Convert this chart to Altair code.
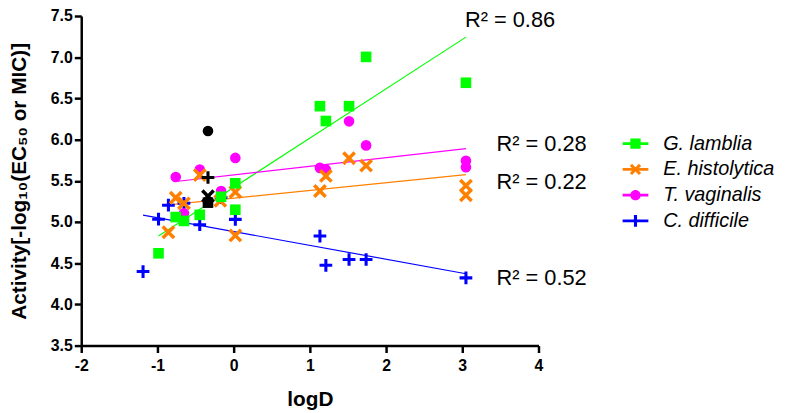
import math
import altair as alt
import pandas as pd

# ---------------- data ----------------
species = ["G. lamblia", "E. histolytica", "T. vaginalis", "C. difficile"]
colors = ["#00FF00", "#FF8000", "#FF00FF", "#0000FF"]

g_x = [-0.986, -0.76, -0.652, -0.445, -0.165, 0.022, 0.022, 1.132, 1.21, 1.514, 1.738, 3.048]
g_y = [4.62, 5.06, 5.013, 5.087, 5.306, 5.47, 5.149, 6.406, 6.226, 6.406, 7.004, 6.69]

e_x = [-0.856, -0.76, -0.652, -0.445, -0.175, 0.022, 0.022, 1.132, 1.21, 1.514, 1.738, 3.048, 3.048]
e_y = [4.876, 5.294, 5.227, 5.570, 5.256, 5.364, 4.837, 5.376, 5.559, 5.774, 5.684, 5.441, 5.324]

t_x = [-0.76, -0.445, 0.022, -0.165, -0.652, 1.132, 1.21, 1.514, 1.738, 3.048, 3.048]
t_y = [5.547, 5.637, 5.778, 5.376, 5.107, 5.657, 5.637, 6.222, 5.930, 5.742, 5.664]

c_x = [-1.189, -0.986, -0.856, -0.652, -0.445, 0.022, -0.165, 1.132, 1.21, 1.514, 1.738, 3.048]
c_y = [4.399, 5.034, 5.204, 5.227, 4.967, 5.032, 5.297, 4.829, 4.474, 4.545, 4.545, 4.322]

# reference compound (black markers), one per organism in species order
ref_x = [-0.337, -0.337, -0.337, -0.337]
ref_y = [5.235, 5.313, 6.105, 5.540]

r2_labels = ["R\u00b2 = 0.86", "R\u00b2 = 0.28", "R\u00b2 = 0.22", "R\u00b2 = 0.52"]
r2_x = [3.035, 3.45, 3.45, 3.45]
r2_y = [7.45, 5.95, 5.49, 4.32]

x_ticks = [-2, -1, 0, 1, 2, 3, 4]
y_ticks = [3.5, 4.0, 4.5, 5.0, 5.5, 6.0, 6.5, 7.0, 7.5]

# ---------------- shapes ----------------
S2 = math.sqrt(2)


def plus_pts(L, a):
    return [(-a, -L), (a, -L), (a, -a), (L, -a), (L, a), (a, a), (a, L), (-a, L),
            (-a, a), (-L, a), (-L, -a), (-a, -a)]


def rot45(pts):
    return [((x - y) / S2, (x + y) / S2) for x, y in pts]


def to_path(pts):
    return "M" + "L".join(f"{x:.3f},{y:.3f}" for x, y in pts) + "Z"


PLUS = to_path(plus_pts(1.0, 0.24))
XSHAPE = to_path(rot45(plus_pts(1.16, 0.25)))
marker_shapes = ["square", XSHAPE, "circle", PLUS]
marker_sizes = [115, 196, 115, 165]

LINE = "M-1,-0.11H1V0.11H-1Z"
legend_shapes = [
    LINE + " M-0.4,-0.4H0.4V0.4H-0.4Z",
    LINE + " " + to_path(rot45(plus_pts(0.5, 0.12))),
    LINE + " M0.4,0A0.4,0.4 0 1,1 -0.4,0A0.4,0.4 0 1,1 0.4,0Z",
    LINE + " M-0.12,-0.46H0.12V0.46H-0.12Z",
]

rows = []
for sp, xs, ys in zip(species, [g_x, e_x, t_x, c_x], [g_y, e_y, t_y, c_y]):
    for xv, yv in zip(xs, ys):
        rows.append({"x": xv, "y": yv, "species": sp})
df = pd.DataFrame(rows)
ref_df = pd.DataFrame({"x": ref_x, "y": ref_y, "species": species})
lab_df = pd.DataFrame({"x": r2_x, "y": r2_y, "label": r2_labels})

FONT = "Liberation Sans"
H = 333

X = alt.X("x:Q", scale=alt.Scale(domain=[-2, 4], nice=False, zero=False),
          axis=alt.Axis(values=x_ticks, title="logD", labelPadding=5, labelFlush=False,
                        labelExpr="datum.value + ''",
                        titleY=55, titleBaseline="middle"))
Y = alt.Y("y:Q", scale=alt.Scale(domain=[3.5, 7.5], nice=False, zero=False),
          axis=alt.Axis(values=y_ticks, format=".1f", labelFlush=False,
                        title="Activity[-log\u2081\u2080(EC\u2085\u2080 or MIC)]",
                        labelPadding=2, titleX=-62, titleY=H / 2, titleAngle=270,
                        titleBaseline="middle", titleAlign="center"))

layers = []
# regression lines
for sp, col in zip(species, colors):
    layers.append(
        alt.Chart(df).transform_filter(alt.datum.species == sp)
        .transform_regression("x", "y")
        .mark_line(color=col, strokeWidth=1.2)
        .encode(x=X, y=Y)
    )
# points, drawn in order blue, magenta, orange, green
for i in [3, 2, 1, 0]:
    layers.append(
        alt.Chart(df).transform_filter(alt.datum.species == species[i])
        .mark_point(shape=marker_shapes[i], size=marker_sizes[i], filled=True,
                    fill=colors[i], strokeWidth=0, opacity=1)
        .encode(x=X, y=Y)
    )
# reference compound in black
for i in [0, 3, 2, 1]:
    layers.append(
        alt.Chart(ref_df).transform_filter(alt.datum.species == species[i])
        .mark_point(shape=marker_shapes[i], size=marker_sizes[i], filled=True,
                    fill="black", strokeWidth=0, opacity=1)
        .encode(x=X, y=Y)
    )
# legend carrier layer (invisible marks)
leg = alt.Legend(title=None, orient="none", legendX=547, legendY=116, padding=0,
                 offset=0, labelOffset=15, rowPadding=3, symbolSize=676,
                 symbolStrokeWidth=0, symbolOpacity=1, labelFont=FONT,
                 labelFontSize=20, labelFontStyle="italic", labelColor="black",
                 labelLimit=300)
layers.append(
    alt.Chart(df).mark_point(filled=True, opacity=0, size=10)
    .encode(
        x=X, y=Y,
        color=alt.Color("species:N", scale=alt.Scale(domain=species, range=colors), legend=leg),
        shape=alt.Shape("species:N", scale=alt.Scale(domain=species, range=legend_shapes), legend=leg),
    )
)
# R^2 labels
layers.append(
    alt.Chart(lab_df).mark_text(align="left", baseline="middle", font=FONT,
                                fontSize=22, color="black")
    .encode(x=X, y=Y, text="label:N")
)

chart = (
    alt.layer(*layers)
    .properties(width=462, height=H,
                autosize=alt.AutoSizeParams(type="none"),
                padding={"left": 74, "top": 6, "right": 243, "bottom": 66})
    .configure_view(stroke=None)
    .configure_axis(grid=False, domainColor="black", domainWidth=2.5,
                    tickColor="black", tickWidth=2.5, tickSize=7,
                    labelFont=FONT, labelFontWeight="bold", labelFontSize=16,
                    labelColor="black", titleFont=FONT, titleFontWeight="bold",
                    titleFontSize=21, titleColor="black")
)

chart.save("out.html", embed_options={"renderer": "svg", "actions": False})
